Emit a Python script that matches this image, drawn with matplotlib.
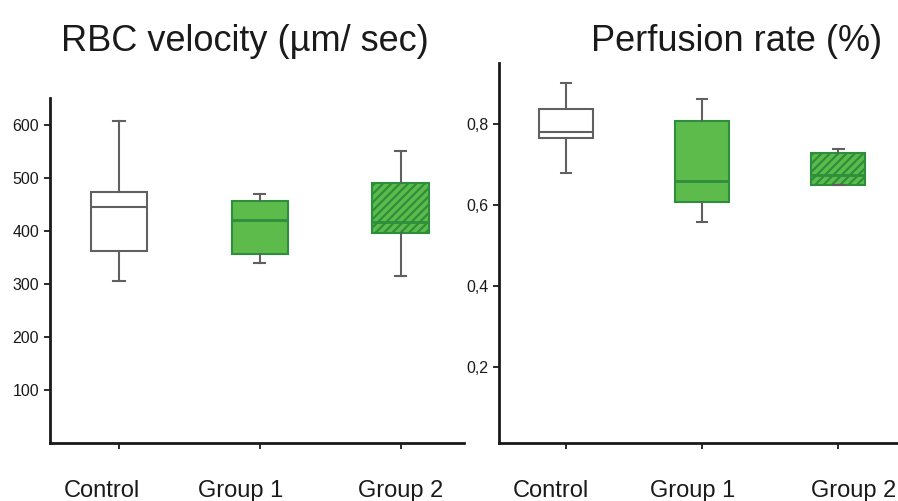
import numpy as np
import matplotlib
matplotlib.use('Agg')
import matplotlib.pyplot as plt
import matplotlib.transforms as mtransforms

plt.rcParams['font.family'] = ['Liberation Sans', 'DejaVu Sans']
plt.rcParams['hatch.linewidth'] = 1.6

groups = ['Control', 'Group 1', 'Group 2']

# RBC velocity (um/sec): whislo, q1, med, q3, whishi
rbc_lo = [306, 339, 315]
rbc_q1 = [362, 356, 396]
rbc_med = [444, 420, 417]
rbc_q3 = [472, 456, 489]
rbc_hi = [607, 470, 550]

# perfusion rate
perf_lo = [0.681, 0.558, 0.649]
perf_q1 = [0.766, 0.608, 0.650]
perf_med = [0.781, 0.660, 0.674]
perf_q3 = [0.837, 0.807, 0.728]
perf_hi = [0.902, 0.863, 0.738]

green = '#5dbb4b'
dgreen = '#2d8f3c'
grey = '#606060'


def make_stats(lo, q1, med, q3, hi):
    return [dict(whislo=a, q1=b, med=c, q3=d, whishi=e, label=g)
            for a, b, c, d, e, g in zip(lo, q1, med, q3, hi, groups)]


def draw(ax, stats):
    bp = ax.bxp(stats, positions=[1, 2, 3], widths=0.4, capwidths=0.08,
                showfliers=False, patch_artist=True,
                whiskerprops=dict(color=grey, lw=1.5),
                capprops=dict(color=grey, lw=1.5))
    styles = [('white', grey, ''), (green, dgreen, ''), (green, dgreen, '////')]
    for box, med, (fc, ec, h) in zip(bp['boxes'], bp['medians'], styles):
        box.set_facecolor(fc)
        box.set_edgecolor(ec)
        box.set_linewidth(1.5)
        box.set_hatch(h)
        med.set_color(ec)
        med.set_linewidth(2.0 if ec == dgreen else 1.5)
    for s in ['top', 'right']:
        ax.spines[s].set_visible(False)
    for s in ['left', 'bottom']:
        ax.spines[s].set_linewidth(2)
        ax.spines[s].set_color('#1a1a1a')
    ax.tick_params(direction='out', length=4, width=1.3, pad=4,
                   labelsize=11.5, colors='#1a1a1a')
    ax.set_xticks([1, 2, 3])
    ax.set_xticklabels([])


fig = plt.figure(figsize=(8.98, 5.01), dpi=100)

ax1 = fig.add_axes([0.0557, 0.1158, 0.461, 0.6886])
draw(ax1, make_stats(rbc_lo, rbc_q1, rbc_med, rbc_q3, rbc_hi))
ax1.set_xlim(0.51, 3.45)
ax1.set_ylim(0, 650)
ax1.set_yticks([100, 200, 300, 400, 500, 600])

ax2 = fig.add_axes([0.556, 0.1148, 0.444, 0.7585])
draw(ax2, make_stats(perf_lo, perf_q1, perf_med, perf_q3, perf_hi))
ax2.set_xlim(0.51, 3.44)
ax2.set_ylim(0.0125, 0.95)
ax2.set_yticks([0.2, 0.4, 0.6, 0.8])
ax2.set_yticklabels(['0,2', '0,4', '0,6', '0,8'])

# category labels below each panel (slightly offset from the ticks, as in the source)
for ax, xs in [(ax1, [0.877, 1.862, 3.0]), (ax2, [0.89, 1.93, 3.115])]:
    tr = mtransforms.blended_transform_factory(ax.transData, fig.transFigure)
    for x, g in zip(xs, groups):
        ax.text(x, 0.008, g, transform=tr, ha='center', va='baseline',
                fontsize=17, color='#1a1a1a', clip_on=False)

fig.text(245 / 898, 0.898, 'RBC velocity (\u00b5m/ sec)', ha='center',
         va='baseline', fontsize=26, color='#1a1a1a')
fig.text(737 / 898, 0.898, 'Perfusion rate (%)', ha='center',
         va='baseline', fontsize=26, color='#1a1a1a')

fig.savefig('out.png', dpi=100)
